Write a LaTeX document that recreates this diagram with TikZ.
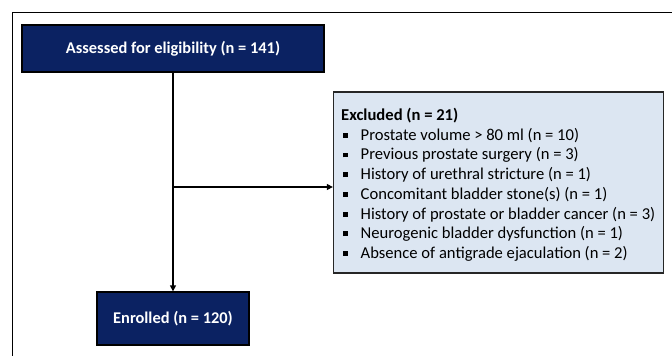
\documentclass[tikz,border=0pt]{standalone}
\usepackage{fontspec}
\setmainfont{Carlito}
\usetikzlibrary{arrows.meta}
\definecolor{navy}{HTML}{0B2262}
\definecolor{paleblue}{HTML}{DCE6F2}
\definecolor{boxedge}{HTML}{262626}
\newcommand\sqbul{\makebox[19.5pt][l]{\hspace{1.5pt}\raisebox{2.5pt}{\rule{4.8pt}{4.8pt}}}}
\begin{document}
\begin{tikzpicture}[x=1pt,y=-1pt,
  darkbox/.style={draw=black, line width=1.3pt, fill=navy, text=white,
    font=\bfseries\fontsize{16.4}{19}\selectfont, inner sep=0pt},
  lightbox/.style={draw=boxedge, line width=1.3pt, fill=paleblue, inner sep=0pt},
  listtext/.style={anchor=north west, align=left, inner sep=0pt,
    font=\fontsize{16.6}{19.7}\selectfont},
  flow/.style={line width=1.3pt, -{Triangle[length=6pt,width=6pt]}},
  frame/.style={line width=1pt, draw=black}]
\useasboundingbox (0,0) rectangle (672,356);
\draw[frame] (12,356) -- (12,12) -- (672,12);
\node[darkbox, minimum width=302pt, minimum height=47pt] (assess) at (173,48.5) {Assessed for eligibility (n = 141)};
\node[darkbox, minimum width=152pt, minimum height=53pt] (enrol) at (173,318.5) {Enrolled (n = 120)};
\node[lightbox, minimum width=330pt, minimum height=181pt] (excl) at (498.5,182.5) {};
\node[listtext] (exlist) at (341,108) {\textbf{Excluded (n = 21)}\\
\sqbul Prostate volume > 80 ml (n = 10)\\
\sqbul Previous prostate surgery (n = 3)\\
\sqbul History of urethral stricture (n = 1)\\
\sqbul Concomitant bladder stone(s) (n = 1)\\
\sqbul History of prostate or bladder cancer (n = 3)\\
\sqbul Neurogenic bladder dysfunction (n = 1)\\
\sqbul Absence of antigrade ejaculation (n = 2)};
\coordinate (br) at (173,187);
\draw[flow] (assess.south) -- (enrol.north);
\draw[flow] (br) -- (br -| excl.west);
\end{tikzpicture}
\end{document}
